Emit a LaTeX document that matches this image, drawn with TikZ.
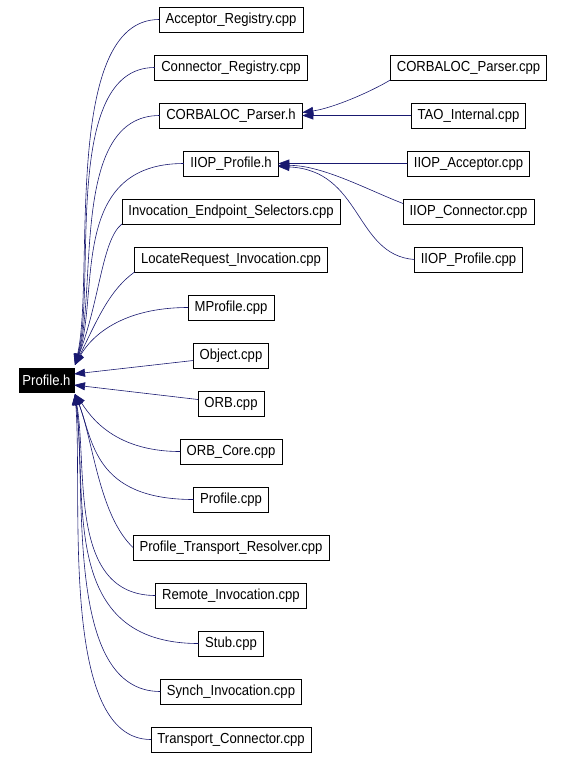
\documentclass[tikz,border=0pt]{standalone}
\usepackage{fontspec}
\setmainfont{Liberation Sans}[FakeStretch=0.9]
\usepackage{tikz}
\usetikzlibrary{positioning,arrows.meta}
\definecolor{midnight}{RGB}{25,25,112}
\tikzset{every picture/.style={line width=0.7pt}}

\begin{document}
\begin{tikzpicture}[x=1bp, y=-1bp, node distance=23bp,
    file/.style={draw, rectangle, fill=white, outer sep=0pt, minimum height=25bp, inner xsep=6.5bp, font=\fontsize{14.6}{16}\selectfont},
    dep/.style={draw=midnight, line width=0.6pt, -{Triangle[length=11bp,width=8bp]}}]
    \useasboundingbox (0,0) rectangle (566,758);

    % The header itself
    \node[file, fill=black, text=white, minimum height=24bp, inner xsep=3.5bp] (prof) at (46.5,380) {Profile.h};

    % Files including it directly
    \node[file] (accr) at (231,19.5) {Acceptor\_Registry.cpp};
    \node[file, below=of accr] (conr) {Connector\_Registry.cpp};
    \node[file, below=of conr] (cph) {CORBALOC\_Parser.h};
    \node[file, below=of cph] (iph) {IIOP\_Profile.h};
    \node[file, below=of iph] (ies) {Invocation\_Endpoint\_Selectors.cpp};
    \node[file, below=of ies] (lri) {LocateRequest\_Invocation.cpp};
    \node[file, below=of lri] (mpr) {MProfile.cpp};
    \node[file, below=of mpr] (obj) {Object.cpp};
    \node[file, below=of obj] (orb) {ORB.cpp};
    \node[file, below=of orb] (orc) {ORB\_Core.cpp};
    \node[file, below=of orc] (prc) {Profile.cpp};
    \node[file, below=of prc] (ptr) {Profile\_Transport\_Resolver.cpp};
    \node[file, below=of ptr] (rem) {Remote\_Invocation.cpp};
    \node[file, below=of rem] (stb) {Stub.cpp};
    \node[file, below=of stb] (syn) {Synch\_Invocation.cpp};
    \node[file, below=of syn] (trc) {Transport\_Connector.cpp};

    % Files including the two middle headers
    \node[file] (cpc) at (468.5,67.5) {CORBALOC\_Parser.cpp};
    \node[file, below=of cpc] (tao) {TAO\_Internal.cpp};
    \node[file, below=of tao] (iac) {IIOP\_Acceptor.cpp};
    \node[file, below=of iac] (icn) {IIOP\_Connector.cpp};
    \node[file, below=of icn] (ipc) {IIOP\_Profile.cpp};

    % Edges into the top corner of Profile.h
    \draw[dep] (accr.west) .. controls +(-98,0) and +(20,-85) .. ([xshift=1bp,yshift=3bp]prof.north east);
    \draw[dep] (conr.west) .. controls +(-94,0) and +(22,-80) .. ([xshift=1bp,yshift=3bp]prof.north east);
    \draw[dep] (cph.west) .. controls +(-90,0) and +(23,-75) .. ([xshift=1bp,yshift=3bp]prof.north east);
    \draw[dep] (iph.west) .. controls +(-116,0) and +(25,-70) .. ([xshift=1bp,yshift=3bp]prof.north east);
    \draw[dep] (ies.south west) .. controls +(-20,16) and +(25,-65) .. ([xshift=1bp,yshift=3bp]prof.north east);
    \draw[dep] (lri.south west) .. controls +(-25,18) and +(23,-47) .. ([xshift=1bp,yshift=3bp]prof.north east);
    \draw[dep] (mpr.west) .. controls +(-65,0) and +(17,-30) .. ([xshift=1bp,yshift=3bp]prof.north east);

    % Straight edges
    \draw[dep] ([yshift=-5bp]obj.west) -- ([yshift=6bp]prof.east);
    \draw[dep] ([yshift=4bp]orb.west) -- ([yshift=-5bp]prof.east);

    % Edges into the bottom corner
    \draw[dep] (orc.west) .. controls +(-70,0) and +(13,18) .. ([xshift=1bp,yshift=-2bp]prof.south east);
    \draw[dep] (prc.west) .. controls +(-100,0) and +(18,46) .. ([xshift=1bp,yshift=-2bp]prof.south east);
    \draw[dep] (ptr.west) .. controls +(-34,-32) and +(18,46) .. ([xshift=1bp,yshift=-2bp]prof.south east);
    \draw[dep] (rem.west) .. controls +(-88,0) and +(13,76) .. ([xshift=1bp,yshift=-2bp]prof.south east);
    \draw[dep] (stb.west) .. controls +(-140,0) and +(13,106) .. ([xshift=1bp,yshift=-2bp]prof.south east);
    \draw[dep] (syn.west) .. controls +(-97,0) and +(12,96) .. ([xshift=1bp,yshift=-2bp]prof.south east);
    \draw[dep] (trc.west) .. controls +(-92,0) and +(8,106) .. ([xshift=1bp,yshift=-2bp]prof.south east);

    % Right column
    \draw[dep] (cpc.south west) .. controls +(-20,12) and +(31,-4.5) .. ([yshift=3bp]cph.east);
    \draw[dep] (tao.west) -- (cph.east);
    \draw[dep] (iac.west) -- (iph.east);
    \draw[dep] ([yshift=8bp]icn.west) .. controls +(-34,-13) and +(44,-0.5) .. ([yshift=-2bp]iph.east);
    \draw[dep] (ipc.west) .. controls +(-60,-4.5) and +(84,3.5) .. ([yshift=-3bp]iph.east);
\end{tikzpicture}
\end{document}
